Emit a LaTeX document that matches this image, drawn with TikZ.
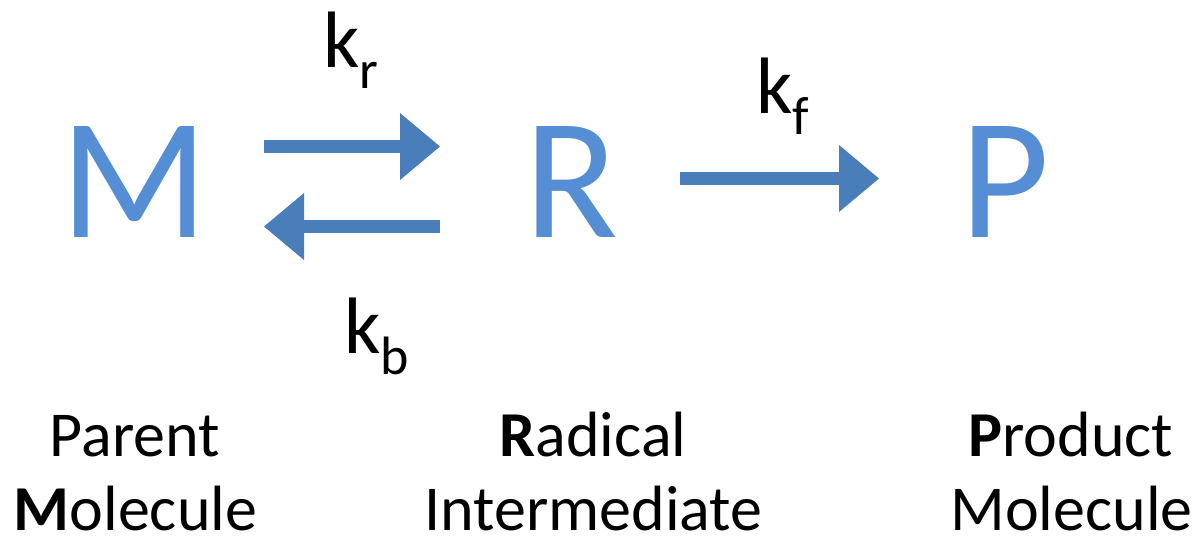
\documentclass[tikz,border=0pt]{standalone}
\usepackage{fontspec}
\setmainfont{Carlito}
\usetikzlibrary{arrows.meta}
\definecolor{letterblue}{RGB}{85,142,213}
\definecolor{arrowblue}{RGB}{74,126,187}
\tikzset{
  species/.style={inner sep=0pt,anchor=base,text=letterblue,font=\fontsize{86.5}{86.5}\selectfont},
  caption/.style={inner sep=0pt,anchor=base,font=\fontsize{32}{35}\selectfont},
  rate/.style={inner sep=0pt,anchor=base west,font=\fontsize{40}{40}\selectfont},
  blockarrow/.style={draw=arrowblue,line width=6.5pt,
    -{Triangle[length=20pt,width=33.5pt,line width=0pt,fill=arrowblue]}}
}
\newcommand{\ratesub}[1]{\raisebox{-10.7pt}{\fontsize{27}{27}\selectfont #1}}
\begin{document}
\begin{tikzpicture}[x=0.5pt,y=-0.5pt]
\useasboundingbox (0,0) rectangle (1196,536);
% species
\node[species] (M) at (134,237) {M};
\node[species] (R) at (571,237) {R};
\node[species] (P) at (1005,237) {P};
% connector end points
\coordinate (a1s) at (264,146.5);
\coordinate (a1e) at (440,146.5);
\coordinate (a2s) at (440,226.5);
\coordinate (a2e) at (264,226.5);
\coordinate (a3s) at (680,178.5);
\coordinate (a3e) at (879,178.5);
\draw[blockarrow] (a1s) -- (a1e);
\draw[blockarrow] (a2s) -- (a2e);
\draw[blockarrow] (a3s) -- (a3e);
% rate constants
\node[rate] (kr) at (323,67) {k\ratesub{r}};
\node[rate] (kf) at (756,113) {k\ratesub{f}};
\node[rate] (kb) at (344,353) {k\ratesub{b}};
% captions
\node[caption] (c1a) at (135,456) {Parent};
\node[caption] (c1b) at (135.5,530) {\textbf{M}olecule};
\node[caption] (c2a) at (593,456) {\textbf{R}adical};
\node[caption] (c2b) at (593.5,530) {Intermediate};
\node[caption] (c3a) at (1071,456) {\textbf{P}roduct};
\node[caption] (c3b) at (1071.5,530) {Molecule};
\end{tikzpicture}
\end{document}
